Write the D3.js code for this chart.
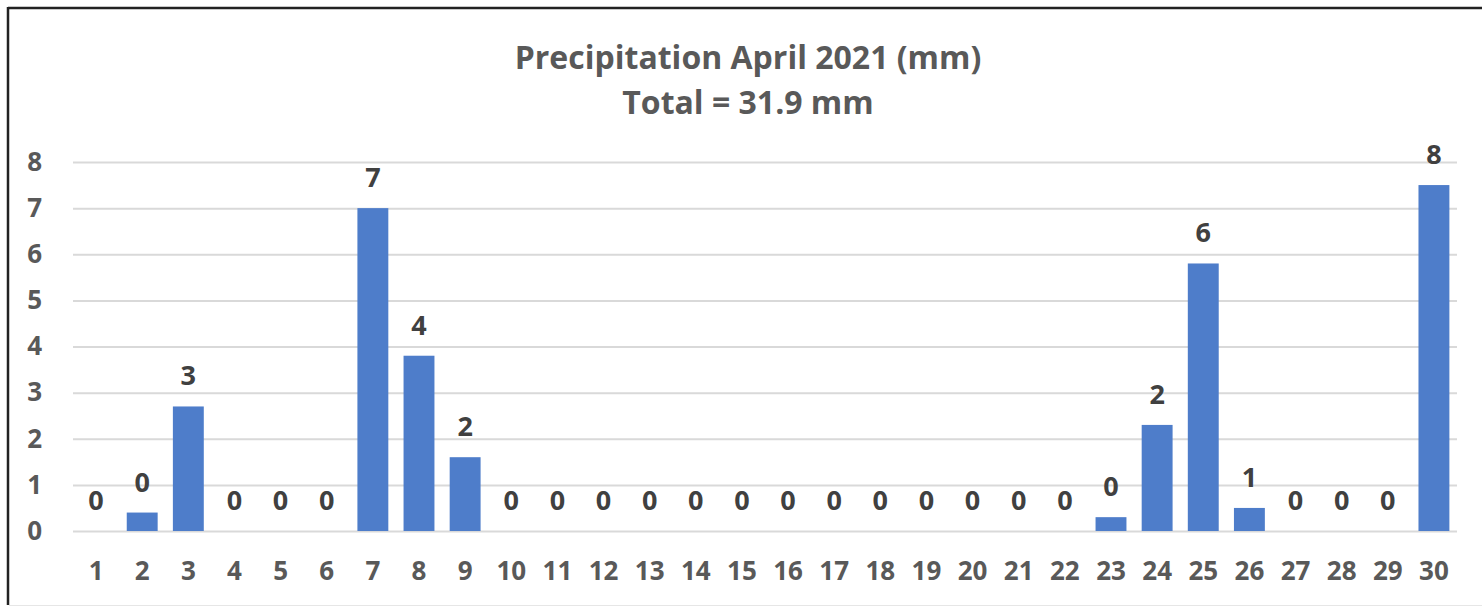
<!DOCTYPE html>
<html>
<head>
<meta charset="utf-8">
<script src="https://cdn.jsdelivr.net/npm/d3@7"></script>
<style>
  body { margin: 0; background: #fff; }
  svg { display: block; font-family: "Open Sans", "DejaVu Sans", sans-serif; }
</style>
</head>
<body>
<div id="chart"></div>
<script>
'use strict';

const width = 1482;
const height = 607;

// data (mm per day)
const days = d3.range(1, 31).map(String);
const rain = [0, 0.4, 2.7, 0, 0, 0, 7.0, 3.8, 1.6, 0,
              0, 0, 0, 0, 0, 0, 0, 0, 0, 0,
              0, 0, 0.3, 2.3, 5.8, 0.5, 0, 0, 0, 7.5];
const yTicks = [0, 1, 2, 3, 4, 5, 6, 7, 8];
const titleLines = ['Precipitation April 2021 (mm)', 'Total = 31.9 mm'];

const margin = {top: 162, right: 25, bottom: 76, left: 73};

const svg = d3.select('#chart').append('svg')
    .attr('width', width)
    .attr('height', height);

// frame
svg.append('line')
    .attr('x1', 8).attr('x2', width).attr('y1', 8).attr('y2', 8)
    .attr('stroke', '#222').attr('stroke-width', 2.5);
svg.append('line')
    .attr('x1', 8).attr('x2', 8).attr('y1', 7).attr('y2', 605)
    .attr('stroke', '#222').attr('stroke-width', 2.5);
svg.append('line')
    .attr('x1', 9).attr('x2', width).attr('y1', 605.5).attr('y2', 605.5)
    .attr('stroke', '#e6e6e6').attr('stroke-width', 1);

const x = d3.scaleBand()
    .domain(days)
    .range([margin.left, width - margin.right])
    .paddingInner(0.33)
    .paddingOuter(0.165);

const y = d3.scaleLinear()
    .domain([0, 8])
    .range([height - margin.bottom, margin.top]);

// title
svg.append('g')
    .selectAll('text')
    .data(titleLines)
    .join('text')
    .attr('x', 748)
    .attr('y', (d, i) => 69 + i * 45)
    .attr('text-anchor', 'middle')
    .attr('font-size', 32)
    .attr('font-weight', 700)
    .attr('fill', '#595959')
    .text(d => d);

// gridlines + y labels
const yAxis = d3.axisLeft(y)
    .tickValues(yTicks)
    .tickSize(-(width - margin.right - margin.left))
    .tickPadding(31)
    .tickFormat(d3.format('d'));

svg.append('g')
    .attr('transform', `translate(${margin.left},0)`)
    .call(yAxis)
    .call(g => g.select('.domain').remove())
    .call(g => g.selectAll('.tick line').attr('stroke', '#d9d9d9').attr('stroke-width', 2))
    .call(g => g.selectAll('.tick text')
        .attr('font-size', 26).attr('font-weight', 700)
        .attr('fill', '#595959').attr('font-family', '"Open Sans", sans-serif'));

// x labels
const xAxis = d3.axisBottom(x).tickSize(0).tickPadding(31);
svg.append('g')
    .attr('transform', `translate(0,${y(0)})`)
    .call(xAxis)
    .call(g => g.select('.domain').remove())
    .call(g => g.selectAll('.tick text')
        .attr('font-size', 26).attr('font-weight', 700)
        .attr('fill', '#595959').attr('font-family', '"Open Sans", sans-serif'));

// bars
svg.append('g')
    .selectAll('rect')
    .data(rain)
    .join('rect')
    .attr('x', (d, i) => x(days[i]))
    .attr('y', d => y(d))
    .attr('width', x.bandwidth())
    .attr('height', d => y(0) - y(d))
    .attr('fill', '#4e7dca');

// data labels
svg.append('g')
    .selectAll('text')
    .data(rain)
    .join('text')
    .attr('x', (d, i) => x(days[i]) + x.bandwidth() / 2)
    .attr('y', d => y(d) - 21)
    .attr('text-anchor', 'middle')
    .attr('font-size', 27)
    .attr('font-weight', 700)
    .attr('fill', '#404040')
    .text(d => d3.format('.0f')(d));
</script>
</body>
</html>
